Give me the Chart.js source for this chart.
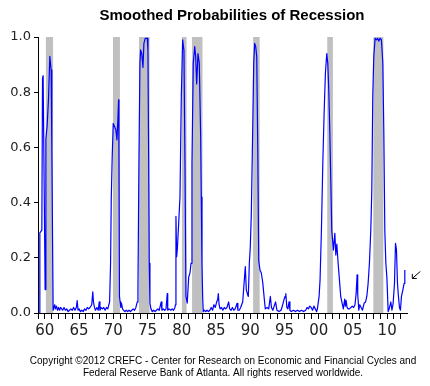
<!DOCTYPE html>
<html>
<head>
<meta charset="utf-8">
<title>Smoothed Probabilities of Recession</title>
<script src="https://cdn.jsdelivr.net/npm/chart.js@4/dist/chart.umd.min.js"></script>
<style>
    body { margin: 0; background: #fff; }
    canvas { display: block; }
</style>
</head>
<body>
<canvas id="recessionChart" width="430" height="386"></canvas>
<script>
// Decimal year of each reading
const months = [
    1959.20, 1959.27, 1959.56, 1959.66, 1959.75, 1959.85, 1960.04, 1960.15, 1960.34, 1960.54,
    1960.73, 1960.92, 1961.02, 1961.13, 1961.21, 1961.30, 1961.45, 1961.55, 1961.70, 1961.85,
    1962.00, 1962.15, 1962.30, 1962.45, 1962.60, 1962.80, 1963.00, 1963.20, 1963.40, 1963.60,
    1963.80, 1964.00, 1964.20, 1964.40, 1964.60, 1964.72, 1964.85, 1965.00, 1965.20, 1965.40,
    1965.60, 1965.80, 1966.00, 1966.20, 1966.40, 1966.60, 1966.85, 1967.00, 1967.10, 1967.25,
    1967.40, 1967.60, 1967.80, 1967.94, 1968.05, 1968.20, 1968.40, 1968.60, 1968.80, 1969.00,
    1969.20, 1969.35, 1969.46, 1969.60, 1969.70, 1969.84, 1969.99, 1970.19, 1970.38, 1970.53,
    1970.67, 1970.77, 1970.82, 1970.90, 1971.00, 1971.10, 1971.20, 1971.35, 1971.50, 1971.70,
    1971.90, 1972.10, 1972.30, 1972.50, 1972.70, 1972.90, 1973.10, 1973.30, 1973.50, 1973.60,
    1973.74, 1973.89, 1973.99, 1974.15, 1974.33, 1974.47, 1974.66, 1974.96, 1975.06, 1975.16,
    1975.25, 1975.35, 1975.50, 1975.70, 1975.90, 1976.10, 1976.30, 1976.50, 1976.70, 1976.85,
    1977.00, 1977.10, 1977.30, 1977.50, 1977.70, 1977.88, 1977.95, 1978.15, 1978.40, 1978.60,
    1978.80, 1979.00, 1979.08, 1979.15, 1979.25, 1979.35, 1979.55, 1979.74, 1979.93, 1980.13,
    1980.32, 1980.47, 1980.61, 1980.80, 1981.01, 1981.20, 1981.35, 1981.49, 1981.68, 1981.89,
    1982.03, 1982.18, 1982.37, 1982.56, 1982.76, 1982.85, 1982.95, 1983.05, 1983.14, 1983.30,
    1983.50, 1983.70, 1983.90, 1984.10, 1984.30, 1984.50, 1984.70, 1984.90, 1985.10, 1985.25,
    1985.34, 1985.45, 1985.60, 1985.80, 1986.00, 1986.20, 1986.40, 1986.60, 1986.85, 1987.00,
    1987.20, 1987.40, 1987.60, 1987.80, 1988.07, 1988.20, 1988.40, 1988.60, 1988.90, 1989.10,
    1989.28, 1989.43, 1989.58, 1989.72, 1989.87, 1990.01, 1990.16, 1990.36, 1990.51, 1990.65,
    1990.80, 1990.95, 1991.10, 1991.24, 1991.43, 1991.62, 1991.83, 1992.02, 1992.20, 1992.45,
    1992.70, 1992.94, 1993.10, 1993.30, 1993.50, 1993.70, 1993.90, 1994.20, 1994.50, 1994.75,
    1994.95, 1995.09, 1995.20, 1995.35, 1995.50, 1995.67, 1995.80, 1996.00, 1996.30, 1996.60,
    1996.90, 1997.20, 1997.50, 1997.80, 1998.10, 1998.30, 1998.50, 1998.70, 1998.90, 1999.10,
    1999.30, 1999.50, 1999.70, 1999.81, 2000.06, 2000.20, 2000.40, 2000.60, 2000.79, 2000.98,
    2001.18, 2001.33, 2001.47, 2001.62, 2001.77, 2001.91, 2002.15, 2002.36, 2002.50, 2002.65,
    2002.84, 2003.03, 2003.22, 2003.42, 2003.60, 2003.80, 2003.90, 2004.00, 2004.15, 2004.30,
    2004.49, 2004.70, 2004.90, 2005.10, 2005.30, 2005.47, 2005.61, 2005.70, 2005.86, 2006.00,
    2006.20, 2006.40, 2006.64, 2006.85, 2007.03, 2007.22, 2007.41, 2007.61, 2007.76, 2007.90,
    2008.05, 2008.24, 2008.44, 2008.63, 2008.77, 2008.97, 2009.16, 2009.37, 2009.51, 2009.66,
    2009.81, 2009.96, 2010.15, 2010.35, 2010.54, 2010.70, 2010.88, 2011.07, 2011.22, 2011.36,
    2011.51, 2011.65, 2011.80, 2011.94, 2012.09, 2012.29, 2012.48, 2012.58
];

// Smoothed recession probability at each reading
const probs = [
    0.000, 0.290, 0.300, 0.850, 0.860, 0.860, 0.085, 0.630, 0.680, 0.780,
    0.930, 0.880, 0.600, 0.250, 0.010, 0.010, 0.030, 0.015, 0.025, 0.010,
    0.020, 0.010, 0.020, 0.015, 0.010, 0.020, 0.010, 0.015, 0.005, 0.010,
    0.015, 0.010, 0.020, 0.010, 0.020, 0.045, 0.010, 0.015, 0.005, 0.010,
    0.005, 0.015, 0.010, 0.020, 0.015, 0.020, 0.030, 0.077, 0.040, 0.020,
    0.010, 0.020, 0.010, 0.040, 0.010, 0.020, 0.015, 0.020, 0.010, 0.020,
    0.015, 0.030, 0.040, 0.180, 0.410, 0.566, 0.687, 0.675, 0.663, 0.627,
    0.700, 0.772, 0.600, 0.060, 0.040, 0.020, 0.035, 0.015, 0.010, 0.005,
    0.010, 0.005, 0.010, 0.005, 0.010, 0.015, 0.010, 0.020, 0.040, 0.083,
    0.540, 0.905, 0.953, 0.940, 0.890, 0.977, 0.995, 0.995, 0.950, 0.566,
    0.180, 0.036, 0.015, 0.005, 0.010, 0.005, 0.010, 0.015, 0.010, 0.025,
    0.040, 0.010, 0.015, 0.010, 0.015, 0.070, 0.010, 0.015, 0.010, 0.015,
    0.010, 0.020, 0.030, 0.350, 0.204, 0.230, 0.326, 0.420, 0.780, 0.990,
    0.950, 0.540, 0.060, 0.036, 0.130, 0.145, 0.180, 0.540, 0.905, 0.965,
    0.930, 0.830, 0.940, 0.905, 0.640, 0.420, 0.180, 0.060, 0.005, 0.010,
    0.005, 0.010, 0.005, 0.010, 0.020, 0.010, 0.030, 0.020, 0.040, 0.050,
    0.070, 0.030, 0.015, 0.020, 0.010, 0.020, 0.015, 0.020, 0.040, 0.015,
    0.010, 0.020, 0.010, 0.015, 0.035, 0.010, 0.010, 0.020, 0.040, 0.107,
    0.168, 0.083, 0.070, 0.060, 0.180, 0.240, 0.360, 0.663, 0.905, 0.977,
    0.965, 0.930, 0.600, 0.190, 0.155, 0.145, 0.110, 0.060, 0.015, 0.020,
    0.015, 0.060, 0.020, 0.010, 0.025, 0.040, 0.010, 0.005, 0.010, 0.030,
    0.050, 0.060, 0.070, 0.020, 0.015, 0.040, 0.010, 0.005, 0.010, 0.005,
    0.010, 0.005, 0.010, 0.005, 0.010, 0.020, 0.015, 0.025, 0.020, 0.010,
    0.025, 0.015, 0.005, 0.015, 0.060, 0.120, 0.300, 0.540, 0.720, 0.868,
    0.940, 0.905, 0.810, 0.663, 0.480, 0.300, 0.228, 0.289, 0.210, 0.250,
    0.180, 0.120, 0.060, 0.036, 0.015, 0.050, 0.025, 0.046, 0.020, 0.015,
    0.015, 0.020, 0.025, 0.020, 0.030, 0.070, 0.138, 0.070, 0.010, 0.030,
    0.020, 0.010, 0.036, 0.040, 0.060, 0.107, 0.180, 0.300, 0.446, 0.784,
    0.930, 0.995, 0.990, 0.995, 0.985, 0.995, 0.990, 0.905, 0.663, 0.300,
    0.180, 0.130, 0.005, 0.020, 0.040, 0.010, 0.036, 0.107, 0.252, 0.230,
    0.107, 0.060, 0.020, 0.010, 0.060, 0.083, 0.107, 0.156
];

// Shaded recession periods (start, end) as decimal years
const recessionStarts = [1960.15, 1969.95, 1973.75, 1980.02, 1981.50, 1990.42, 2001.25, 2007.98];
const recessionEnds   = [1961.20, 1970.97, 1975.30, 1980.70, 1983.03, 1991.38, 2002.08, 2009.45];

// Axis ticks
const yTicks = [0.0, 0.2, 0.4, 0.6, 0.8, 1.0];
const xLabelEvery = 5;

const chartTitle = 'Smoothed Probabilities of Recession';
const copyrightLines = [
    'Copyright \u00A92012 CREFC - Center for Research on Economic and Financial Cycles and',
    'Federal Reserve Bank of Atlanta. All rights reserved worldwide.'
];

const points = months.map((m, i) => ({ x: m, y: probs[i] }));

// Grey bars behind the line for each recession
const recessionBands = {
    id: 'recessionBands',
    beforeDatasetsDraw(chart) {
        const { ctx, chartArea, scales } = chart;
        ctx.save();
        ctx.fillStyle = '#c0c0c0';
        recessionStarts.forEach((start, i) => {
            const x1 = scales.x.getPixelForValue(start);
            const x2 = scales.x.getPixelForValue(recessionEnds[i]);
            ctx.fillRect(x1, chartArea.top, x2 - x1, chartArea.bottom - chartArea.top);
        });
        ctx.restore();
    }
};

// Title, copyright note and the small arrow at the last reading
const extraText = {
    id: 'extraText',
    afterDraw(chart) {
        const { ctx, scales } = chart;
        ctx.save();
        ctx.fillStyle = '#000';
        ctx.textAlign = 'center';
        ctx.textBaseline = 'alphabetic';
        ctx.font = 'bold 15px "Liberation Sans", Arial, sans-serif';
        ctx.fillText(chartTitle, 232, 19.5);

        ctx.font = '10px "Liberation Sans", Arial, sans-serif';
        ctx.fillText(copyrightLines[0], 223, 363.5);
        ctx.fillText(copyrightLines[1], 223, 375.5);

        // arrow pointing at the latest value
        const last = points[points.length - 1];
        const px = scales.x.getPixelForValue(last.x);
        const py = scales.y.getPixelForValue(last.y);
        const tipX = px + 7.5, tipY = py + 8.5;
        ctx.strokeStyle = '#000';
        ctx.lineWidth = 1;
        ctx.beginPath();
        ctx.moveTo(tipX + 8, tipY - 7);
        ctx.lineTo(tipX, tipY);
        ctx.moveTo(tipX, tipY);
        ctx.lineTo(tipX, tipY - 4.5);
        ctx.moveTo(tipX, tipY);
        ctx.lineTo(tipX + 4.5, tipY);
        ctx.stroke();
        ctx.restore();
    }
};

Chart.defaults.font.family = '"DejaVu Sans", sans-serif';
Chart.defaults.color = '#222';

const recessionChart = new Chart(document.getElementById('recessionChart'), {
    type: 'line',
    data: {
        datasets: [{
            data: points,
            borderColor: '#0000ff',
            borderWidth: 1.2,
            borderJoinStyle: 'round',
            pointRadius: 0,
            tension: 0,
            fill: false
        }]
    },
    options: {
        responsive: false,
        animation: false,
        layout: { padding: { left: 0, right: 23, top: 37, bottom: 43 } },
        plugins: {
            legend: { display: false },
            tooltip: { enabled: false }
        },
        scales: {
            x: {
                type: 'linear',
                min: 1959.0,
                max: 2012.9,
                afterFit: scale => { scale.height = 30; },
                border: { display: true, color: '#000', width: 1 },
                grid: { drawOnChartArea: false, drawTicks: true, tickLength: 6, color: '#000' },
                ticks: {
                    stepSize: 1,
                    includeBounds: false,
                    autoSkip: false,
                    maxRotation: 0,
                    padding: 3,
                    font: { size: 15 },
                    callback: v => (v % xLabelEvery === 0 ? String(v % 100).padStart(2, '0') : '')
                }
            },
            y: {
                min: 0,
                max: 1,
                afterFit: scale => { scale.width = 38; },
                afterBuildTicks: scale => { scale.ticks = yTicks.map(v => ({ value: v })); },
                border: { display: true, color: '#000', width: 1 },
                grid: { drawOnChartArea: false, drawTicks: true, tickLength: 4, color: '#000' },
                ticks: {
                    padding: 3,
                    font: { size: 13 },
                    callback: v => v.toFixed(1)
                }
            }
        }
    },
    plugins: [recessionBands, extraText]
});
</script>
</body>
</html>
